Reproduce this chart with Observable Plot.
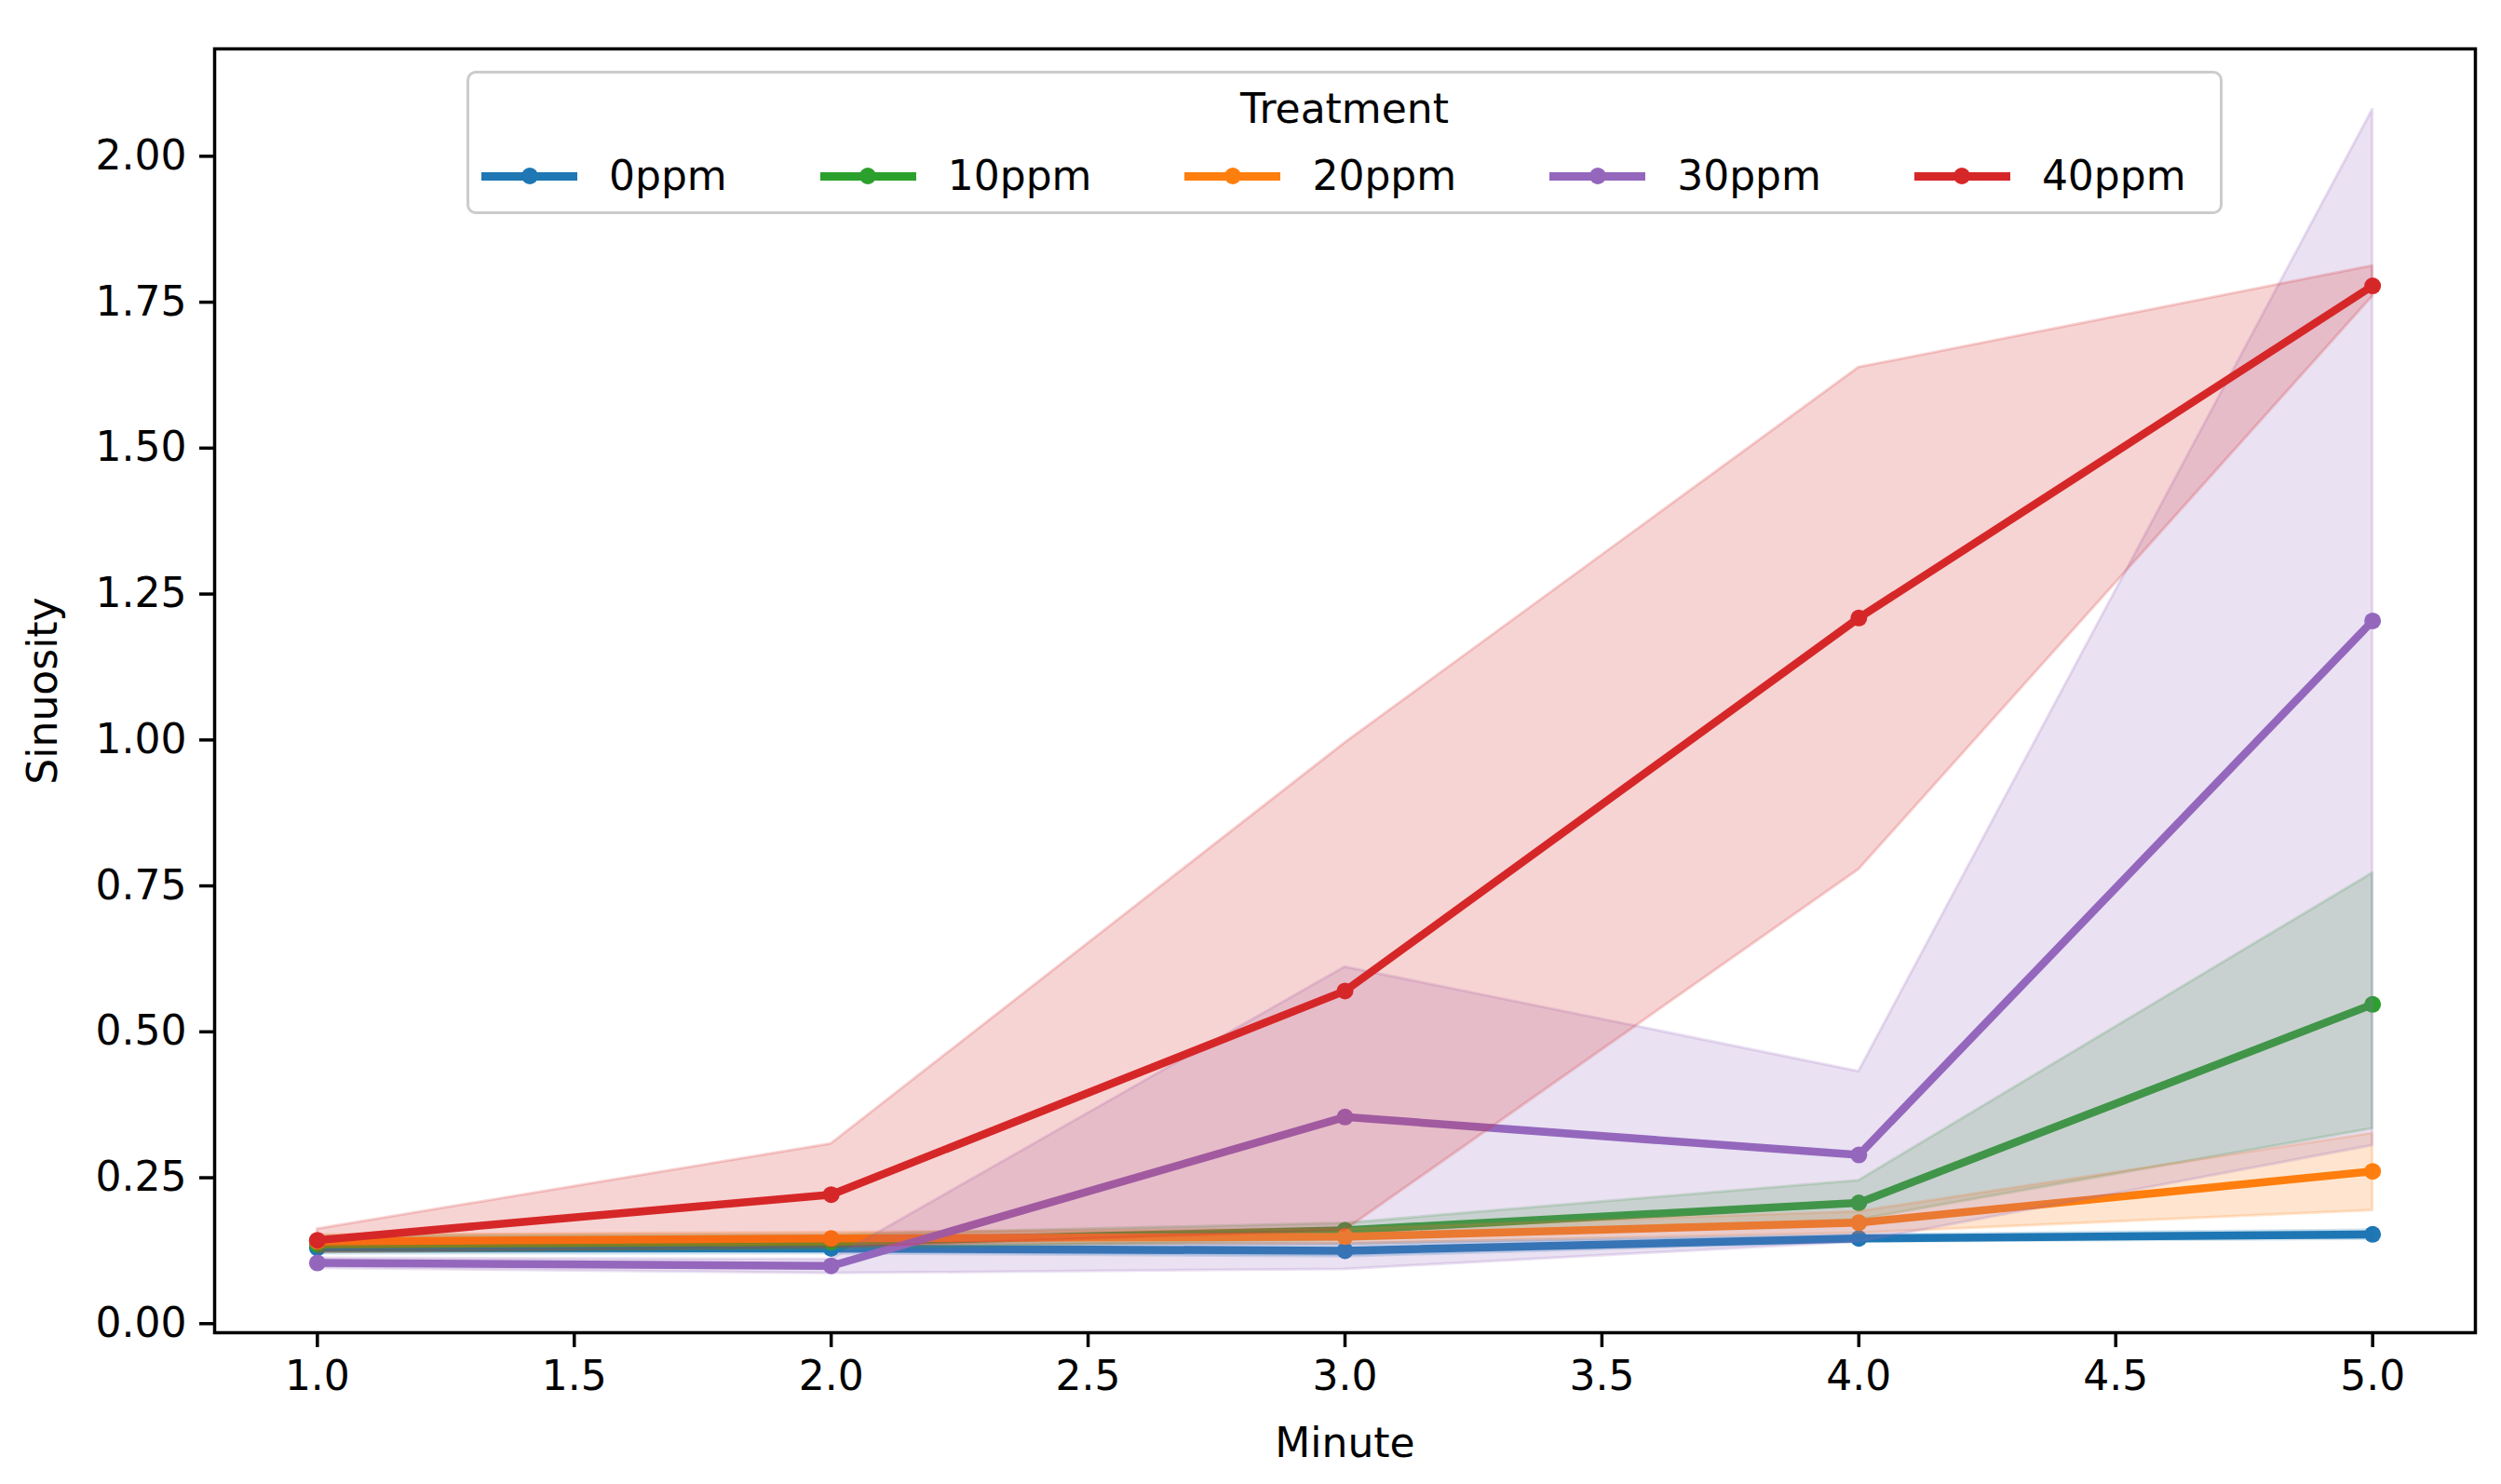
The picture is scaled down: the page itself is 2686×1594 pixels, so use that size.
<!DOCTYPE html>
<html>
<head>
<meta charset="utf-8">
<script src="https://cdn.jsdelivr.net/npm/d3@7"></script>
<script src="https://cdn.jsdelivr.net/npm/@observablehq/plot@0.6"></script>
<style>
  html, body { margin: 0; padding: 0; background: #fff; overflow: hidden; }
  #wrap { position: relative; width: 2686px; height: 1594px; font-family: "DejaVu Sans", sans-serif; }
  #legend {
    position: absolute; left: 501px; top: 76px; width: 1880px; height: 148px;
    border: 3px solid #cccccc; border-radius: 10px; background: rgba(255,255,255,0.8);
    box-sizing: content-box; font-size: 44px; color: #000;
  }
  #legend .title { position: absolute; left: 0; right: 0; top: 12px; text-align: center; line-height: 52px; }
  #legend .items { position: absolute; left: 13px; top: 84px; display: flex; gap: 100px; align-items: center; line-height: 52px; }
  #legend .item { display: flex; align-items: center; gap: 34px; }
  #legend .handle { position: relative; width: 103px; height: 9px; }
  #legend .handle .dot { position: absolute; left: 42.5px; top: -4.5px; width: 18px; height: 18px; border-radius: 50%; }
</style>
</head>
<body>
<div id="wrap"></div>
<script>
// ---- data ----
const minutes = [1, 2, 3, 4, 5];
const treatments = ["0ppm", "10ppm", "20ppm", "30ppm", "40ppm"];
const colors = ["#1f77b4", "#2ca02c", "#ff7f0e", "#9467bd", "#d62728"];

const mean_0ppm  = [0.130, 0.129, 0.125, 0.146, 0.153];
const lo_0ppm    = [0.120, 0.120, 0.115, 0.140, 0.145];
const hi_0ppm    = [0.140, 0.137, 0.137, 0.152, 0.160];

const mean_10ppm = [0.136, 0.140, 0.160, 0.207, 0.547];
const lo_10ppm   = [0.122, 0.128, 0.143, 0.178, 0.334];
const hi_10ppm   = [0.150, 0.152, 0.172, 0.245, 0.772];

const mean_20ppm = [0.141, 0.146, 0.149, 0.173, 0.261];
const lo_20ppm   = [0.130, 0.135, 0.137, 0.155, 0.194];
const hi_20ppm   = [0.152, 0.156, 0.162, 0.192, 0.326];

const mean_30ppm = [0.104, 0.099, 0.354, 0.289, 1.204];
const lo_30ppm   = [0.095, 0.086, 0.093, 0.140, 0.305];
const hi_30ppm   = [0.112, 0.110, 0.611, 0.432, 2.080];

const mean_40ppm = [0.143, 0.221, 0.570, 1.209, 1.778];
const lo_40ppm   = [0.122, 0.130, 0.160, 0.778, 1.760];
const hi_40ppm   = [0.162, 0.308, 0.995, 1.638, 1.812];

const xTicks = [1.0, 1.5, 2.0, 2.5, 3.0, 3.5, 4.0, 4.5, 5.0];
const yTicks = [0.00, 0.25, 0.50, 0.75, 1.00, 1.25, 1.50, 1.75, 2.00];
const xLabel = "Minute";
const yLabel = "Sinuosity";
const legendTitle = "Treatment";

// ---- build table ----
const seriesMean = [mean_0ppm, mean_10ppm, mean_20ppm, mean_30ppm, mean_40ppm];
const seriesLo = [lo_0ppm, lo_10ppm, lo_20ppm, lo_30ppm, lo_40ppm];
const seriesHi = [hi_0ppm, hi_10ppm, hi_20ppm, hi_30ppm, hi_40ppm];

const marks = [];
treatments.forEach((t, i) => {
  const rows = minutes.map((m, j) => ({minute: m, mean: seriesMean[i][j], lo: seriesLo[i][j], hi: seriesHi[i][j]}));
  marks.push(Plot.line(rows, {x: "minute", y: "mean", stroke: colors[i], strokeWidth: 8.5}));
  marks.push(Plot.dot(rows, {x: "minute", y: "mean", fill: colors[i], r: 9}));
  marks.push(Plot.areaY(rows, {x: "minute", y1: "lo", y2: "hi", fill: colors[i], fillOpacity: 0.2,
    stroke: colors[i], strokeOpacity: 0.2, strokeWidth: 3}));
});

const chart = Plot.plot({
  width: 2686,
  height: 1594,
  marginLeft: 230,
  marginRight: 28,
  marginTop: 52,
  marginBottom: 163,
  style: {fontFamily: "DejaVu Sans", fontSize: "44px", color: "#000", background: "#fff"},
  x: {domain: [0.8, 5.2]},
  y: {domain: [-0.0155, 2.184]},
  marks: [
    ...marks,
    Plot.axisX({ticks: xTicks, tickFormat: d3.format(".1f"), tickSize: 16, tickPadding: 14,
      strokeWidth: 3.5, fontSize: 44, label: null}),
    Plot.axisY({ticks: yTicks, tickFormat: d3.format(".2f"), tickSize: 16, tickPadding: 14,
      strokeWidth: 3.5, fontSize: 44, label: null}),
    Plot.text([xLabel], {text: d => d, frameAnchor: "bottom", lineAnchor: "middle", textAnchor: "middle", dy: 119, fontSize: 44}),
    Plot.text([yLabel], {text: d => d, frameAnchor: "left", lineAnchor: "middle", textAnchor: "middle", rotate: -90, dx: -184, fontSize: 44}),
    Plot.frame({stroke: "#000", strokeWidth: 3.5})
  ]
});

const wrap = document.getElementById("wrap");
wrap.appendChild(chart);

// ---- legend (inside the axes, like matplotlib) ----
const legend = document.createElement("div");
legend.id = "legend";
const title = document.createElement("div");
title.className = "title";
title.textContent = legendTitle;
legend.appendChild(title);
const items = document.createElement("div");
items.className = "items";
treatments.forEach((t, i) => {
  const item = document.createElement("div");
  item.className = "item";
  const h = document.createElement("div");
  h.className = "handle";
  h.style.background = colors[i];
  const dot = document.createElement("div");
  dot.className = "dot";
  dot.style.background = colors[i];
  h.appendChild(dot);
  const lab = document.createElement("span");
  lab.textContent = t;
  item.appendChild(h);
  item.appendChild(lab);
  items.appendChild(item);
});
legend.appendChild(items);
wrap.appendChild(legend);
</script>
</body>
</html>
